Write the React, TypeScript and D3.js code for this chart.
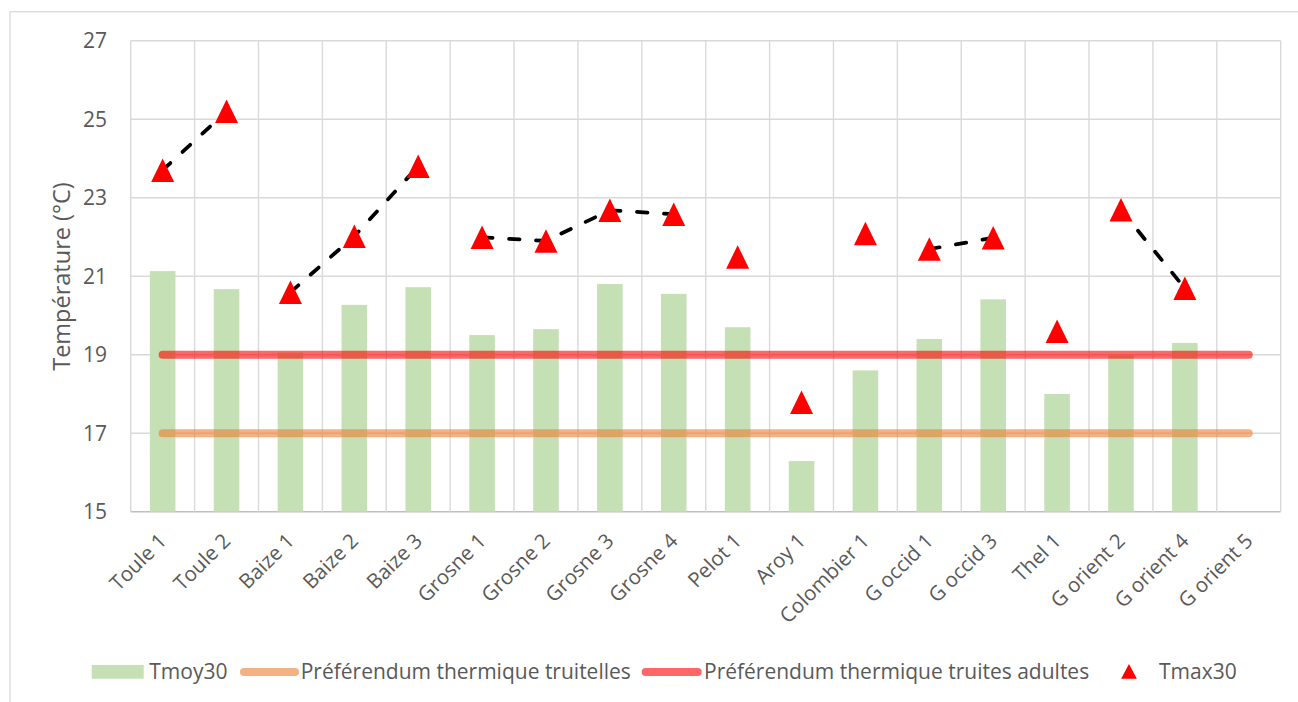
import React from "react";
import * as d3 from "d3";

const categories = ["Toule 1","Toule 2","Baize 1","Baize 2","Baize 3","Grosne 1","Grosne 2","Grosne 3","Grosne 4","Pelot 1","Aroy 1","Colombier 1","G occid 1","G occid 3","Thel 1","G orient 2","G orient 4","G orient 5"];
const rivers = ["Toule","Toule","Baize","Baize","Baize","Grosne","Grosne","Grosne","Grosne","Pelot","Aroy","Colombier","G occid","G occid","Thel","G orient","G orient","G orient"];
const tmoy30: (number | null)[] = [21.13,20.67,19.05,20.27,20.72,19.50,19.65,20.80,20.55,19.70,16.29,18.60,19.40,20.41,18.00,19.00,19.30,null];
const tmax30: (number | null)[] = [23.70,25.20,20.59,22.02,23.80,21.99,21.90,22.68,22.58,21.49,17.79,22.09,21.69,21.98,19.60,22.69,20.69,null];
const truitelles = 17;
const truitesAdultes = 19;
const yTicks = [15,17,19,21,23,25,27];
const legendLabels = ["Tmoy30","Préférendum thermique truitelles","Préférendum thermique truites adultes","Tmax30"];

const W = 1298, H = 702;
const L = 130.7, R = 1280.7, T = 40.7, B = 511.7;
const FONT = "'Open Sans', 'Noto Sans', sans-serif";
const TXT = "#595959";
const GRID = "#D9D9D9";
const GREEN = "#C5E0B4";

function tri(w: number, h: number) {
  const p = d3.path();
  p.moveTo(0, -h / 2);
  p.lineTo(w / 2, h / 2);
  p.lineTo(-w / 2, h / 2);
  p.closePath();
  return p.toString();
}

export default function App() {
  const x = d3.scaleBand<string>().domain(categories).range([L, R]).paddingInner(0).paddingOuter(0);
  const y = d3.scaleLinear().domain([15, 27]).range([B, T]);
  const step = x.step();
  const cx = (c: string) => (x(c) as number) + x.bandwidth() / 2;
  const barW = step * 0.4;

  const groups = Array.from(new Set(rivers));
  const lineGen = d3.line<{ c: string; v: number }>().x(d => cx(d.c)).y(d => y(d.v));

  const firstX = cx(categories[0]);
  const lastX = cx(categories[categories.length - 1]);

  return (
    <svg width={W} height={H} style={{ position: "absolute", left: 0, top: 0, background: "#fff" }} fontFamily={FONT}>
      <rect x={10} y={11.7} width={W + 20} height={H + 20} fill="#fff" stroke={GRID} strokeWidth={1.3} />
      {/* grid */}
      {yTicks.map(t => (
        <line key={"h" + t} x1={L} x2={R} y1={y(t)} y2={y(t)} stroke={t === 15 ? "#BFBFBF" : GRID} strokeWidth={1.4} />
      ))}
      {d3.range(categories.length + 1).map(k => (
        <line key={"v" + k} x1={L + k * step} x2={L + k * step} y1={T} y2={B} stroke={GRID} strokeWidth={1.4} />
      ))}
      {/* bars */}
      {categories.map((c, i) => tmoy30[i] == null ? null : (
        <rect key={"b" + c} x={cx(c) - barW / 2} y={y(tmoy30[i] as number)} width={barW} height={y(15) - y(tmoy30[i] as number)} fill={GREEN} />
      ))}
      {/* reference lines */}
      <line x1={firstX} x2={lastX} y1={y(truitelles)} y2={y(truitelles)} stroke="#ED7D31" strokeOpacity={0.6} strokeWidth={8} strokeLinecap="round" />
      <line x1={firstX} x2={lastX} y1={y(truitesAdultes)} y2={y(truitesAdultes)} stroke="#FF0000" strokeOpacity={0.6} strokeWidth={8} strokeLinecap="round" />
      {/* dashed tmax lines */}
      {groups.map(g => {
        const pts = categories.map((c, i) => ({ c, v: tmax30[i], r: rivers[i] })).filter(d => d.r === g && d.v != null) as { c: string; v: number }[];
        if (pts.length < 2) return null;
        return <path key={"l" + g} d={lineGen(pts) || ""} fill="none" stroke="#000" strokeWidth={3.75} strokeDasharray="10.5 16.5" strokeLinecap="round" />;
      })}
      {/* triangles */}
      {categories.map((c, i) => tmax30[i] == null ? null : (
        <path key={"t" + c} d={tri(23, 23.5)} transform={`translate(${cx(c)},${y(tmax30[i] as number)})`} fill="#FF0000" />
      ))}
      {/* y ticks */}
      {yTicks.map(t => (
        <text key={"yt" + t} x={107} y={y(t)} dy="0.36em" textAnchor="end" fontSize={21} fill={TXT}>{t}</text>
      ))}
      <text transform={`translate(70,276.5) rotate(-90)`} textAnchor="middle" fontSize={23.5} fill={TXT}>Température (°C)</text>
      {/* x labels */}
      {categories.map(c => (
        <text key={"xl" + c} transform={`translate(${cx(c)},537) rotate(-45)`} dy="0.36em" textAnchor="end" fontSize={20.5} fill={TXT}>{c}</text>
      ))}
      {/* legend */}
      <rect x={91.7} y={665} width={52} height={13.7} fill={GREEN} />
      <text x={149.3} y={678.7} fontSize={21} fill={TXT}>{legendLabels[0]}</text>
      <line x1={244} x2={295} y1={672} y2={672} stroke="#ED7D31" strokeOpacity={0.6} strokeWidth={8} strokeLinecap="round" />
      <text x={300.7} y={678.7} fontSize={21} fill={TXT}>{legendLabels[1]}</text>
      <line x1={645.7} x2={697.7} y1={672} y2={672} stroke="#FF0000" strokeOpacity={0.6} strokeWidth={8} strokeLinecap="round" />
      <text x={704} y={678.7} fontSize={21} fill={TXT}>{legendLabels[2]}</text>
      <path d={tri(15.7, 14.7)} transform="translate(1129,671.4)" fill="#FF0000" />
      <text x={1159} y={678.7} fontSize={21} fill={TXT}>{legendLabels[3]}</text>
    </svg>
  );
}
